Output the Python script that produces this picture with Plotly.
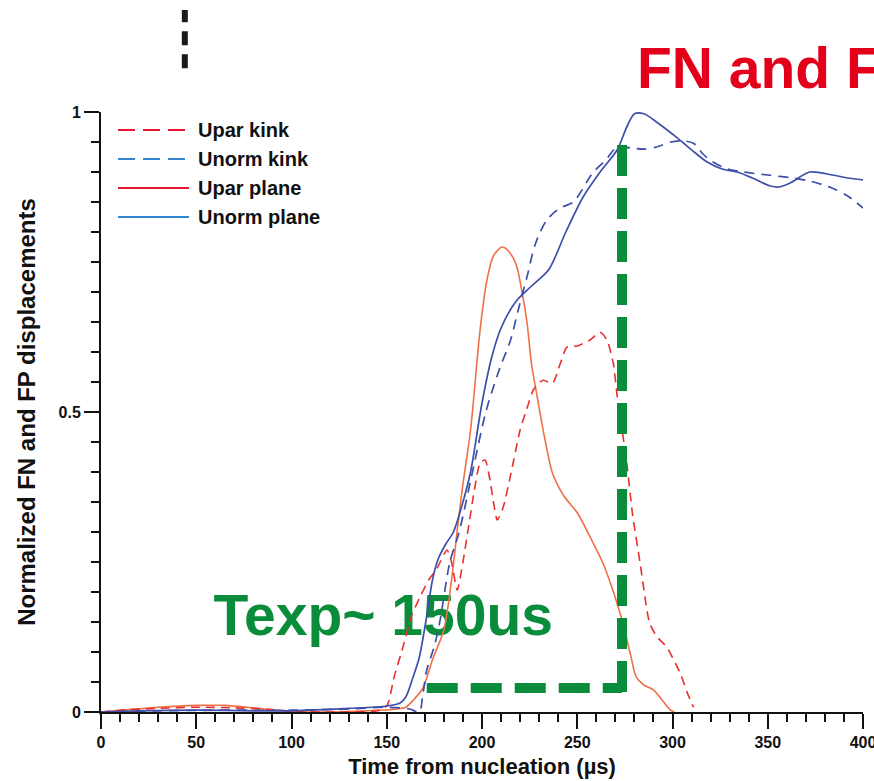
import plotly.graph_objects as go

# Normalized fault-normal (Unorm) and fault-parallel (Upar) displacements
# for the kinked and planar fault models, vs. time from nucleation (µs).
upar_kink_t = [0, 10, 30, 50, 70, 90, 100, 120, 145, 150, 154, 158.5, 163, 167.5, 172, 176,
               181.6, 184, 187, 190, 193, 196, 199, 201.6, 204, 206, 208, 211, 214.7, 220,
               224, 227, 232, 237, 241, 244.6, 250, 256.7, 262, 265.6, 269, 271, 274, 276,
               279, 283, 288, 292, 297, 304, 308, 311]
upar_kink_u = [0, 0.003, 0.006, 0.008, 0.007, 0.004, 0.001, 0, 0.002, 0.01, 0.06, 0.108,
               0.16, 0.192, 0.22, 0.237, 0.27, 0.25, 0.203, 0.25, 0.31, 0.37, 0.415, 0.42,
               0.39, 0.35, 0.32, 0.34, 0.39, 0.47, 0.51, 0.537, 0.553, 0.548, 0.58, 0.608,
               0.61, 0.62, 0.633, 0.62, 0.58, 0.525, 0.46, 0.415, 0.33, 0.248, 0.148, 0.125,
               0.108, 0.065, 0.03, 0.008]

unorm_kink_t = [0, 30, 60, 100, 130, 150, 162, 167, 169, 171, 175, 178, 183, 188, 195, 202,
                209, 215, 219, 223.6, 228, 234, 241, 248, 258, 265, 271, 278, 285, 292, 299,
                305, 311, 316, 321, 329, 337, 350, 363, 372, 384, 392, 400]
unorm_kink_u = [0, 0.002, 0.003, 0.003, 0.005, 0.008, 0.005, 0.0, 0.03, 0.07, 0.11, 0.153,
                0.248, 0.30, 0.40, 0.50, 0.57, 0.62, 0.67, 0.725, 0.78, 0.82, 0.84, 0.85,
                0.898, 0.92, 0.942, 0.94, 0.938, 0.942, 0.95, 0.952, 0.948, 0.93, 0.917,
                0.905, 0.90, 0.895, 0.89, 0.885, 0.873, 0.86, 0.84]

upar_plane_t = [0, 10, 30, 50, 65, 80, 95, 110, 140, 155, 160, 164, 169, 174, 180, 184, 187,
                190, 194, 199, 202.6, 206, 210.5, 214, 218, 221, 223.6, 226, 229, 233, 237, 243,
                250, 257, 263.5, 269, 274, 278, 281, 285, 290, 295, 299, 301]
upar_plane_u = [0, 0.003, 0.008, 0.011, 0.011, 0.007, 0.002, 0, 0.002, 0.005, 0.008, 0.02,
                0.04, 0.087, 0.137, 0.22, 0.303, 0.38, 0.47, 0.637, 0.72, 0.76, 0.775, 0.768,
                0.745, 0.70, 0.65, 0.58, 0.525, 0.455, 0.398, 0.36, 0.332, 0.29, 0.248, 0.2,
                0.148, 0.095, 0.058, 0.045, 0.037, 0.018, 0.003, 0]

unorm_plane_t = [0, 20, 50, 80, 100, 130, 150, 157, 160, 164, 167, 171, 174, 177, 181, 185,
                 190, 194, 200, 205, 210, 218, 226, 235, 244, 253, 262, 271, 276, 280, 285,
                 293, 302, 310, 318, 326, 334, 342, 351, 356, 362, 372, 384, 392, 400]
unorm_plane_u = [0, 0.002, 0.003, 0.002, 0.002, 0.006, 0.01, 0.015, 0.025, 0.06, 0.09, 0.16,
                 0.22, 0.255, 0.28, 0.30, 0.35, 0.40, 0.515, 0.59, 0.64, 0.685, 0.71, 0.737,
                 0.80, 0.858, 0.90, 0.937, 0.975, 0.997, 0.997, 0.98, 0.958, 0.937, 0.917,
                 0.905, 0.90, 0.89, 0.877, 0.875, 0.882, 0.90, 0.895, 0.89, 0.887]

legend_labels = ["Upar kink", "Unorm kink", "Upar plane", "Unorm plane"]

# Exposure window bracket (start, end, level, top) and its label
texp_start, texp_end, texp_level, texp_top = 171, 273.5, 0.04, 0.945
texp_label = "Texp~ 150us"
texp_label_pos = (59, 0.152)

# Marker line above the plot (time, lower, upper in paper units)
marker_t, marker_lo, marker_hi = 44, 1.073, 1.17

header_text = "FN and FP"

FONT = "Liberation Sans, Arial, sans-serif"
BLUE = "#3d4fa8"
ORANGE = "#f07048"
RED = "#e8302c"
GREEN = "#0a8d3b"
LEG_RED = "#e8172f"
LEG_BLUE = "#2f86cf"

fig = go.Figure()

# Label sits beneath the curves
fig.add_trace(go.Scatter(
    x=[texp_label_pos[0]], y=[texp_label_pos[1]], mode="text", text=[texp_label],
    textposition="middle right",
    textfont=dict(family=FONT, size=57, color=GREEN, weight="bold"),
    showlegend=False, hoverinfo="skip", cliponaxis=False))

fig.add_trace(go.Scatter(x=upar_plane_t, y=upar_plane_u, mode="lines", name="Upar plane",
                         line=dict(color=ORANGE, width=1.6, shape="spline", smoothing=0.8),
                         showlegend=False))
fig.add_trace(go.Scatter(x=upar_kink_t, y=upar_kink_u, mode="lines", name="Upar kink",
                         line=dict(color=RED, width=1.6, dash="9px,6px", shape="spline",
                                   smoothing=0.6),
                         showlegend=False))
fig.add_trace(go.Scatter(x=unorm_kink_t, y=unorm_kink_u, mode="lines", name="Unorm kink",
                         line=dict(color=BLUE, width=1.7, dash="10px,7px", shape="spline",
                                   smoothing=0.8),
                         showlegend=False))
fig.add_trace(go.Scatter(x=unorm_plane_t, y=unorm_plane_u, mode="lines", name="Unorm plane",
                         line=dict(color=BLUE, width=1.7, shape="spline", smoothing=0.8),
                         showlegend=False))

# Exposure bracket: horizontal base and vertical end
fig.add_shape(type="line", xref="x", yref="y", x0=texp_start, x1=texp_end,
              y0=texp_level, y1=texp_level,
              line=dict(color=GREEN, width=10, dash="31px,13px"))
fig.add_shape(type="line", xref="x", yref="y", x0=texp_end, x1=texp_end,
              y0=texp_top, y1=texp_level - 0.008,
              line=dict(color=GREEN, width=10, dash="31px,12px"))

# Dashed marker above the axes
fig.add_shape(type="line", xref="x", yref="paper", x0=marker_t, x1=marker_t,
              y0=marker_lo, y1=marker_hi,
              line=dict(color="#1a1a1a", width=6, dash="14px,9px"))

# Legend drawn as line samples plus labels
leg_styles = [(LEG_RED, "17px,8px"), (LEG_BLUE, "17px,8px"), (LEG_RED, "solid"),
              (LEG_BLUE, "solid")]
leg_rows = [0.970, 0.9217, 0.8733, 0.825]
for (col, dash), yy, lab in zip(leg_styles, leg_rows, legend_labels):
    fig.add_shape(type="line", xref="paper", yref="paper", x0=0.0223, x1=0.1155,
                  y0=yy, y1=yy, line=dict(color=col, width=1.8, dash=dash))
    fig.add_annotation(xref="paper", yref="paper", x=0.125, y=yy, text=lab,
                       showarrow=False, xanchor="left", yanchor="middle",
                       font=dict(family=FONT, size=20, color="#111111", weight="bold"))

fig.add_annotation(xref="paper", yref="paper", x=0.701, y=1.073, text=header_text,
                   showarrow=False, xanchor="left", yanchor="middle",
                   font=dict(family=FONT, size=57, color="#e2001a", weight="bold"))

axis_font = dict(family=FONT, size=16, color="#111111", weight="bold")
title_font = dict(family=FONT, size=22, color="#111111", weight="bold")

fig.update_xaxes(range=[0, 400], dtick=50, tick0=0, ticks="outside", ticklen=15,
                 tickwidth=2, tickcolor="#111111", showline=True, linewidth=2,
                 linecolor="#111111", showgrid=False, zeroline=False, tickfont=axis_font,
                 ticklabeloverflow="allow", automargin=False,
                 minor=dict(dtick=10, ticks="outside", ticklen=8, tickwidth=2,
                            tickcolor="#111111", showgrid=False),
                 title=dict(text="Time from nucleation (µs)", font=title_font, standoff=8))
fig.update_yaxes(range=[0, 1], dtick=0.5, tick0=0, ticks="outside", ticklen=15,
                 tickwidth=2, tickcolor="#111111", showline=True, linewidth=2,
                 linecolor="#111111", showgrid=False, zeroline=False, tickfont=axis_font,
                 automargin=False,
                 minor=dict(dtick=0.05, ticks="outside", ticklen=8, tickwidth=2,
                            tickcolor="#111111", showgrid=False),
                 title=dict(text="Normalized FN and FP displacements",
                            font=dict(family=FONT, size=24, color="#111111", weight="bold"),
                            standoff=16))

fig.update_layout(width=874, height=781, paper_bgcolor="white", plot_bgcolor="white",
                  margin=dict(l=101, r=11, t=112, b=69, autoexpand=False), showlegend=False)

fig.write_html("out.html")
